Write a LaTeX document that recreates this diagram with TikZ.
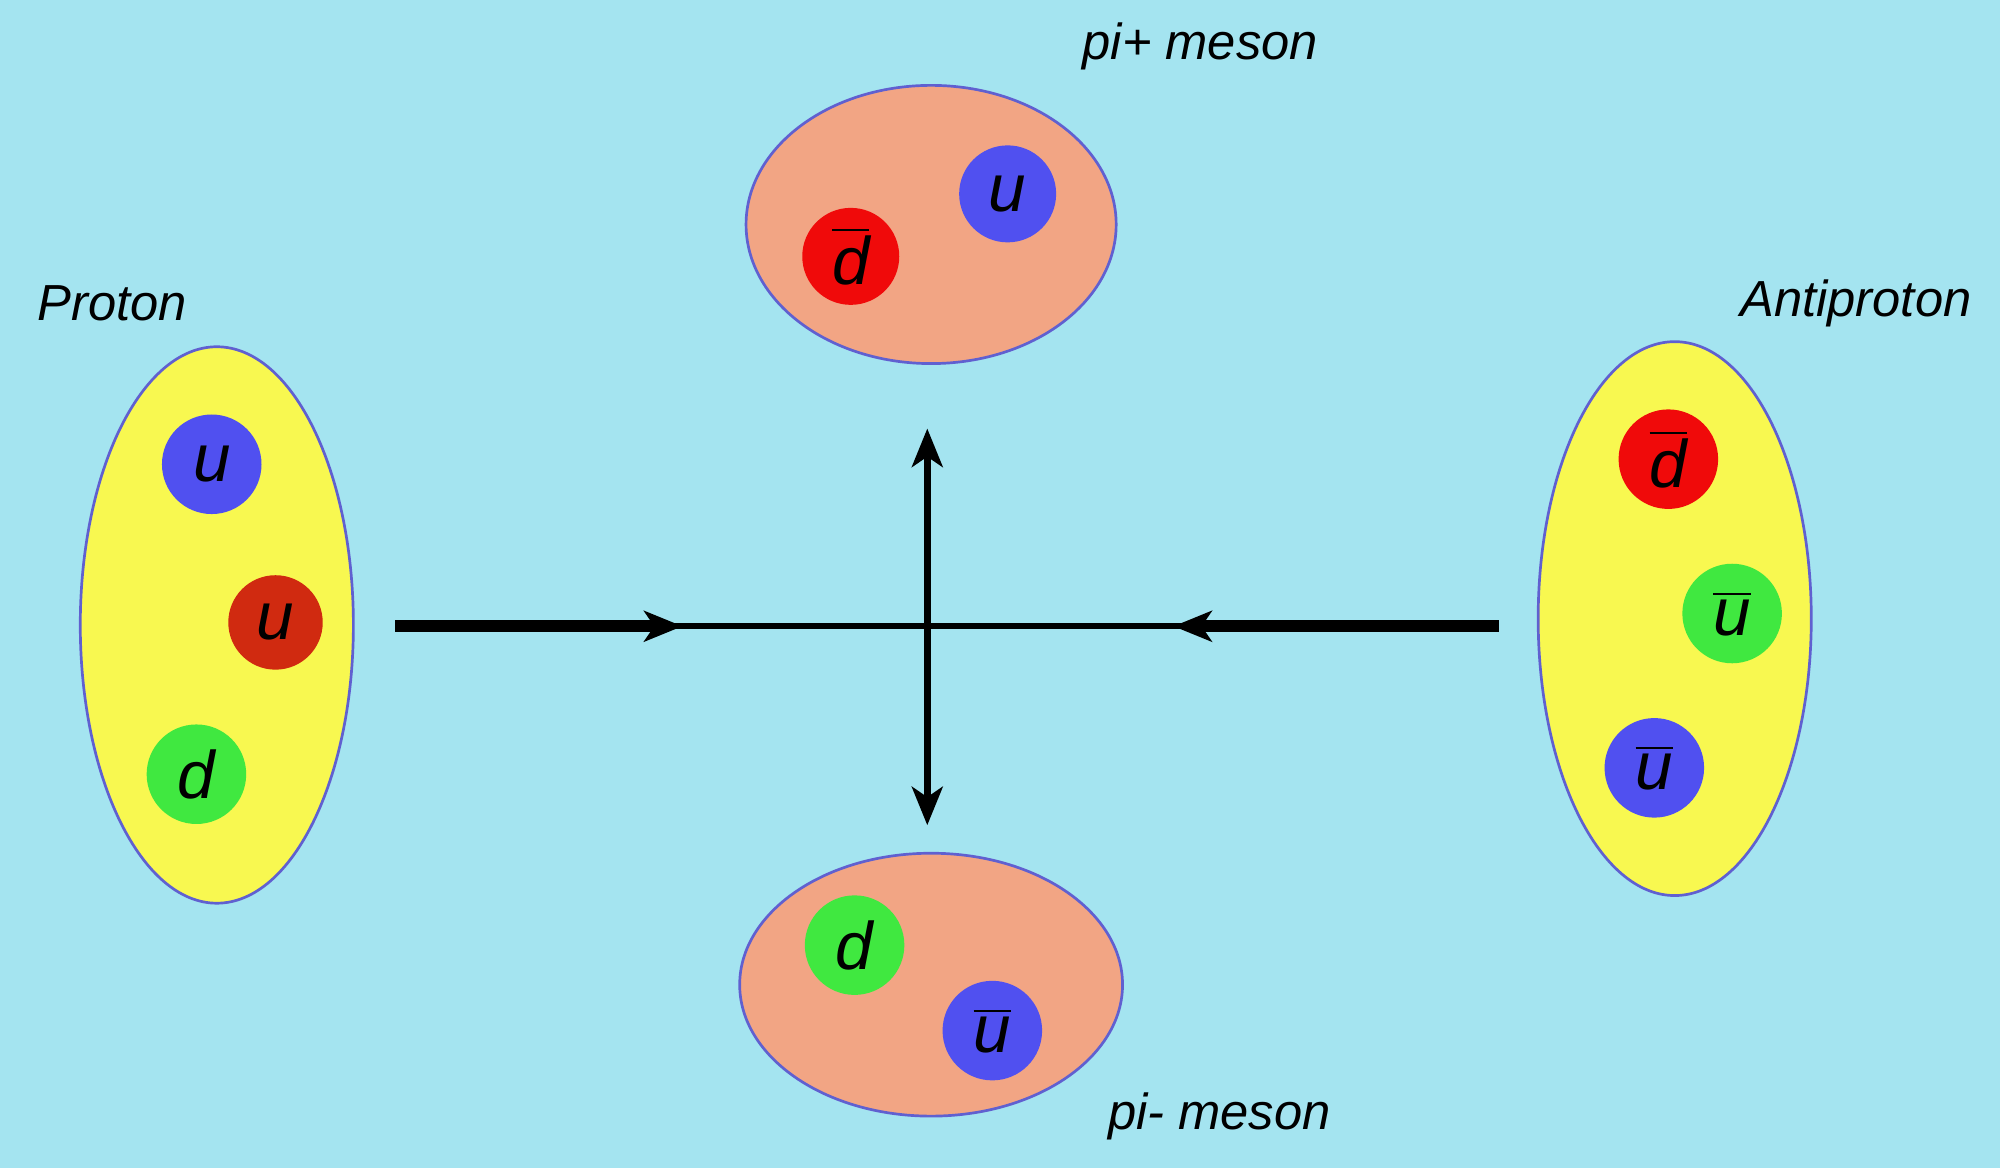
\documentclass[tikz,border=0pt]{standalone}
\usepackage{fontspec}
\setmainfont{Liberation Sans}
\usetikzlibrary{shapes.geometric,arrows.meta}
\definecolor{bg}{HTML}{A4E4F0}
\definecolor{yel}{HTML}{F8F850}
\definecolor{sal}{HTML}{F2A584}
\definecolor{qb}{HTML}{5050F0}
\definecolor{qr}{HTML}{F00A0A}
\definecolor{qdr}{HTML}{D02A10}
\definecolor{qg}{HTML}{40E840}
\definecolor{edge}{HTML}{6060D0}
\begin{document}
\begin{tikzpicture}[x=0.01cm,y=-0.01cm,
  had/.style={ellipse,draw=edge,line width=0.6pt,inner sep=0pt},
  q/.style={circle,inner sep=0pt,minimum size=0.78cm,font=\fontsize{15}{15}\selectfont\itshape},
  lab/.style={font=\fontsize{11.3}{13}\selectfont\itshape},
  tip/.style={-{Stealth[length=0.3cm,width=0.24cm,inset=0.08cm]}}]
\fill[bg] (0,0) rectangle (1568,916);
\useasboundingbox (0,0) rectangle (1568,916);
% hadrons
\node[had,fill=yel,minimum width=2.14cm,minimum height=4.36cm] (P) at (170,490) {};
\node[had,fill=yel,minimum width=2.14cm,minimum height=4.34cm] (A) at (1313,485) {};
\node[had,fill=sal,minimum width=2.9cm,minimum height=2.18cm] (pp) at (730,176) {};
\node[had,fill=sal,minimum width=3.0cm,minimum height=2.06cm] (pm) at (730,772) {};
% quarks
\node[q,fill=qb] (p1) at (166,364) {u};
\node[q,fill=qdr,minimum size=0.74cm] (p2) at (216,488) {u};
\node[q,fill=qg] (p3) at (154,607) {d};
\node[q,fill=qr] (a1) at (1308,360) {$\overline{\mbox{\itshape d}}$};
\node[q,fill=qg] (a2) at (1358,481) {$\overline{\mbox{\itshape u}}$};
\node[q,fill=qb] (a3) at (1297,602) {$\overline{\mbox{\itshape u}}$};
\node[q,fill=qr,minimum size=0.76cm] (m1) at (667,201) {$\overline{\mbox{\itshape d}}$};
\node[q,fill=qb,minimum size=0.76cm] (m2) at (790,152) {u};
\node[q,fill=qg] (n1) at (670,741) {d};
\node[q,fill=qb] (n2) at (778,808) {$\overline{\mbox{\itshape u}}$};
% labels
\node[lab] (lpp) at (941,36) {pi+ meson};
\node[lab] (lP) at (88,238) {Proton};
\node[lab] (lA) at (1455,238) {Antiproton};
\node[lab] (lpm) at (956,875) {pi- meson};
% connectors
\coordinate (L0) at (310,491);
\coordinate (L1) at (535,491);
\coordinate (R0) at (1175,491);
\coordinate (R1) at (920,491);
\coordinate (T) at (727,336);
\coordinate (B) at (727,647);
\coordinate (C) at (727,491);
\draw[line width=1.3pt] (L0) -- (R0);
\draw[line width=2.6pt,tip] (L0) -- (L1);
\draw[line width=2.6pt,tip] (R0) -- (R1);
\draw[line width=1.6pt,tip] (C) -- (T);
\draw[line width=1.6pt,tip] (C) -- (B);
\end{tikzpicture}
\end{document}
